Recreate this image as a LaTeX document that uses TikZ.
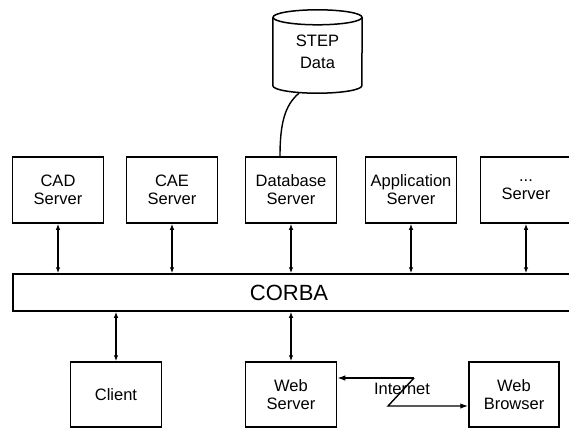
\documentclass[tikz,border=0pt]{standalone}
\usepackage{fontspec}
\setmainfont{Liberation Sans}
\usetikzlibrary{arrows.meta,calc}
\begin{document}
\begin{tikzpicture}[x=1pt,y=-1pt,
  box/.style={draw, line width=1.5pt, minimum width=91pt, minimum height=66pt, inner sep=0pt, align=center, font=\fontsize{16.5}{18}\selectfont},
  link/.style={line width=1.4pt, {Latex[length=6pt,width=4.5pt]}-{Latex[length=6pt,width=4.5pt]}},
  onearrow/.style={line width=1.4pt, -{Latex[length=8pt,width=5.5pt]}},
  lbl/.style={inner sep=0pt, align=center, font=\fontsize{16.5}{18}\selectfont}]
\useasboundingbox (0,0) rectangle (569,428);
\clip (0,0) rectangle (569,428);
% STEP data cylinder
\node[lbl, minimum width=89pt, minimum height=83pt, font=\fontsize{16.5}{22}\selectfont] (step) at (317.5,51.5) {STEP\\Data};
\draw[line width=1.5pt] ($(step.north west)+(0,7.5)$) -- ($(step.south west)+(0,-7.5)$) arc[start angle=180, end angle=360, x radius=44.5pt, y radius=7.5pt]
  -- ($(step.north east)+(0,7.5)$);
\draw[line width=1.5pt] ($(step.north)+(0,7.5)$) ellipse[x radius=44.5pt, y radius=7.5pt];
% servers
\node[box] (cad) at (58,190) {CAD\\Server};
\node[box] (cae) at (172,190) {CAE\\Server};
\node[box] (db) at (291,190) {Database\\Server};
\node[box] (app) at (411,190) {Application\\Server};
\node[box] (more) at (526,190) {...\\Server};
% CORBA bar
\node[draw, line width=1.5pt, minimum width=600pt, minimum height=37pt, inner sep=0pt] (corba) at (313,292.5) {};
\node[inner sep=0pt, font=\fontsize{22}{24}\selectfont] (corbatxt) at (289,293) {CORBA};
% bottom
\node[box, minimum height=65pt] (client) at (116,394.5) {Client};
\node[box, minimum height=65pt] (ws) at (291,394.5) {Web\\Server};
\node[box, minimum height=65pt, minimum width=90pt] (wb) at (514,394.5) {Web\\Browser};
% links
\foreach \n in {cad,cae,db,app,more}
  \draw[link] (\n.south) -- (\n.south |- corba.north);
\draw[link] (corba.south -| client.north) -- (client.north);
\draw[link] (corba.south -| ws.north) -- (ws.north);
% STEP to database
\draw[line width=1.4pt] ($(step.south)+(-18.5,0)$) .. controls ($(step.south)+(-33,12)$) and ($(db.north)+(-11,-32)$) .. ($(db.north)+(-11,0)$);
% Internet
\coordinate (i1) at (414,378);
\coordinate (i2) at (388,406);
\draw[onearrow] (i1) -- (i1 -| ws.east);
\draw[onearrow] (i1) -- (i2) -- (i2 -| wb.west);
\node[lbl] (inet) at (402,389) {Internet};
\end{tikzpicture}
\end{document}
